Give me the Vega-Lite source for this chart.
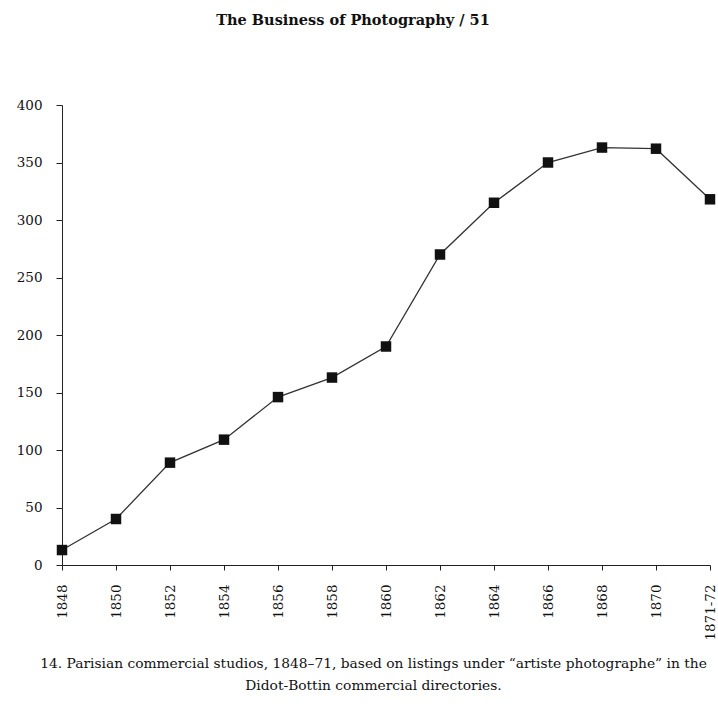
{
  "$schema": "https://vega.github.io/schema/vega-lite/v6.json",
  "width": 648,
  "height": 460,
  "autosize": "none",
  "padding": {"left": 62, "top": 105, "right": 8, "bottom": 148},
  "background": "white",
  "title": {
    "text": "The Business of Photography  /  51",
    "font": "DejaVu Serif",
    "fontSize": 14.5,
    "fontWeight": "bold",
    "color": "#111",
    "anchor": "middle",
    "dx": -33,
    "offset": 70
  },
  "data": {
    "values": [
      {"period": "1848", "studios": 13},
      {"period": "1850", "studios": 40},
      {"period": "1852", "studios": 89},
      {"period": "1854", "studios": 109},
      {"period": "1856", "studios": 146},
      {"period": "1858", "studios": 163},
      {"period": "1860", "studios": 190},
      {"period": "1862", "studios": 270},
      {"period": "1864", "studios": 315},
      {"period": "1866", "studios": 350},
      {"period": "1868", "studios": 363},
      {"period": "1870", "studios": 362},
      {"period": "1871-72", "studios": 318}
    ]
  },
  "config": {
    "view": {"stroke": null},
    "axis": {
      "labelFont": "DejaVu Serif",
      "titleFont": "DejaVu Serif",
      "labelColor": "#111",
      "titleColor": "#111",
      "domainColor": "#222",
      "tickColor": "#222",
      "grid": false
    }
  },
  "encoding": {
    "x": {
      "field": "period",
      "type": "ordinal",
      "sort": null,
      "scale": {"type": "point", "padding": 0},
      "axis": {
        "labelAngle": -90,
        "labelFontSize": 13.5,
        "labelPadding": 14,
        "tickSize": 5,
        "title": ["14. Parisian commercial studios, 1848–71, based on listings under “artiste photographe” in the", "Didot-Bottin commercial directories."],
        "titleFontSize": 13.8,
        "titleFontWeight": "normal",
        "titleLineHeight": 22,
        "titleAnchor": "middle",
        "titleX": 311,
        "titleY": 91,
        "titleBaseline": "top"
      }
    },
    "y": {
      "field": "studios",
      "type": "quantitative",
      "scale": {"domain": [0, 400], "nice": false},
      "axis": {
        "values": [0, 50, 100, 150, 200, 250, 300, 350, 400],
        "labelFontSize": 13.5,
        "labelPadding": 14,
        "tickSize": 6,
        "title": null
      }
    }
  },
  "layer": [
    {"mark": {"type": "line", "color": "#333", "strokeWidth": 1.3}},
    {"mark": {"type": "point", "shape": "square", "filled": true, "color": "#111", "opacity": 1, "size": 110}}
  ]
}
